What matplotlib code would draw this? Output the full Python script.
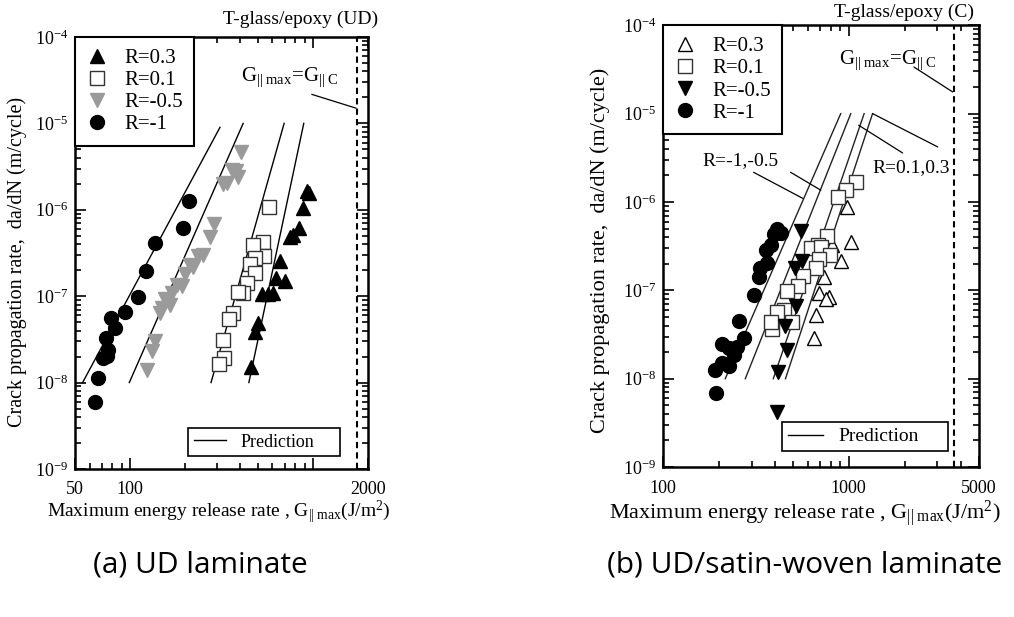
import numpy as np
import matplotlib
matplotlib.use("Agg")
import matplotlib.pyplot as plt
from matplotlib.ticker import NullFormatter, LogLocator
from matplotlib.lines import Line2D

plt.rcParams['font.family'] = ['Liberation Serif', 'DejaVu Serif']
plt.rcParams['mathtext.fontset'] = 'custom'
plt.rcParams['mathtext.rm'] = 'Liberation Serif'
plt.rcParams['mathtext.it'] = 'Liberation Serif:italic'
plt.rcParams['mathtext.bf'] = 'Liberation Serif:bold'

# ---- (a) UD laminate: G_II,max (J/m^2) vs da/dN (m/cycle) ----
ud_r03_g = [923, 953, 877, 841, 780, 748, 659, 627, 702, 524, 569, 602, 502, 481, 458]
ud_r03_dadn = [1.65e-6, 1.58e-6, 1.04e-6, 6.1e-7, 5.1e-7, 4.8e-7, 2.58e-7, 1.61e-7, 1.51e-7,
               1.05e-7, 1.05e-7, 1.1e-7, 4.9e-8, 3.8e-8, 1.53e-8]

ud_r01_g = [576, 531, 539, 471, 481, 452, 481, 434, 416, 390, 366, 348, 321, 327, 307]
ud_r01_dadn = [1.09e-6, 4.2e-7, 2.94e-7, 3.9e-7, 2.75e-7, 2.36e-7, 1.84e-7, 1.41e-7, 1.1e-7,
               1.13e-7, 6.3e-8, 5.5e-8, 3.1e-8, 1.9e-8, 1.64e-8]

ud_rm05_g = [404, 362, 380, 390, 323, 340, 288, 273, 251, 236, 222, 212, 200, 180, 191,
             169, 155, 165, 146, 150, 137, 131, 123]
ud_rm05_dadn = [4.7e-6, 2.9e-6, 2.8e-6, 2.4e-6, 2.0e-6, 2.05e-6, 6.8e-7, 4.8e-7, 3.0e-7,
                2.9e-7, 2.2e-7, 2.3e-7, 1.8e-7, 1.35e-7, 1.3e-7, 1.1e-7, 9.3e-8, 7.9e-8,
                6.3e-8, 7.2e-8, 3.0e-8, 2.3e-8, 1.4e-8]

ud_rm1_g = [210, 195, 136, 122, 110, 94, 79, 83, 74, 76, 71, 74.5, 67, 64]
ud_rm1_dadn = [1.27e-6, 6.2e-7, 4.1e-7, 1.96e-7, 9.9e-8, 6.6e-8, 5.6e-8, 4.3e-8, 3.26e-8,
               2.38e-8, 1.91e-8, 2.03e-8, 1.14e-8, 5.9e-9]

# prediction lines (end points), order R=-1, -0.5, 0.1, 0.3
ud_pred_g = [[55, 310], [99, 415], [277, 695], [446, 890]]
ud_pred_dadn = [[1e-8, 9e-6], [1e-8, 1e-5], [1e-8, 1e-5], [1e-8, 1e-5]]
ud_gc = 1730

# ---- (b) UD/satin-woven laminate ----
c_r03_g = [984, 1025, 817, 905, 735, 691, 783, 751, 663, 649]
c_r03_dadn = [8.8e-7, 3.5e-7, 3.25e-7, 2.14e-7, 1.4e-7, 9.4e-8, 8.4e-8, 7.9e-8, 5.2e-8, 2.86e-8]

c_r01_g = [1091, 963, 875, 760, 686, 623, 712, 792, 691, 663, 569, 535, 462, 447, 412, 496, 384, 379]
c_r01_dadn = [1.69e-6, 1.38e-6, 1.14e-6, 4.1e-7, 3.3e-7, 3.05e-7, 3.1e-7, 2.5e-7, 2.24e-7,
              1.77e-7, 1.45e-7, 1.12e-7, 9.9e-8, 6.0e-8, 5.7e-8, 4.4e-8, 3.7e-8, 4.4e-8]

c_rm05_g = [551, 562, 511, 517, 451, 466, 415, 408]
c_rm05_dadn = [4.7e-7, 2.16e-7, 1.77e-7, 6.6e-8, 4.0e-8, 2.1e-8, 1.19e-8, 4.2e-9]

c_rm1_g = [412, 395, 429, 379, 356, 364, 334, 327, 308, 257, 272, 208, 225, 250, 240, 208,
           225, 191, 193]
c_rm1_dadn = [4.9e-7, 4.4e-7, 4.5e-7, 3.25e-7, 2.9e-7, 2.05e-7, 1.77e-7, 1.42e-7, 8.8e-8,
              4.5e-8, 2.9e-8, 2.5e-8, 2.2e-8, 2.3e-8, 1.85e-8, 1.49e-8, 1.39e-8, 1.27e-8, 6.9e-9]

c_pred_g = [[216, 905], [277, 1025], [392, 1210], [456, 1343]]
c_pred_dadn = [[1e-8, 1e-5], [1e-8, 1e-5], [1e-8, 1e-5], [1e-8, 1e-5]]
c_gc = 3700

y_ticks = [1e-9, 1e-8, 1e-7, 1e-6, 1e-5, 1e-4]
y_labels = [r'$10^{-9}$', r'$10^{-8}$', r'$10^{-7}$', r'$10^{-6}$', r'$10^{-5}$', r'$10^{-4}$']

gray = '#9a9a9a'
ms = 9.5
G_LABEL = r'G$_{||\ \mathrm{max}}$=G$_{||\ \mathrm{C}}$'


def style_axes(ax, xlim, xticks, xlabels):
    ax.set_xscale('log')
    ax.set_yscale('log')
    ax.set_xlim(*xlim)
    ax.set_ylim(1e-9, 1e-4)
    ax.set_xticks(xticks, xlabels)
    ax.set_yticks(y_ticks, y_labels)
    ax.xaxis.set_minor_locator(LogLocator(base=10, subs=np.arange(2, 10)))
    ax.yaxis.set_minor_locator(LogLocator(base=10, subs=np.arange(2, 10)))
    ax.xaxis.set_minor_formatter(NullFormatter())
    ax.yaxis.set_minor_formatter(NullFormatter())
    ax.tick_params(which='both', direction='in', top=True, right=True, width=1.2)
    ax.tick_params(which='major', length=8, labelsize=13)
    ax.tick_params(which='minor', length=4)
    ax.tick_params(axis='x', which='major', pad=9)
    ax.tick_params(axis='y', which='major', pad=5)
    for s in ax.spines.values():
        s.set_linewidth(1.8)


def leader(ax, p0, p1):
    ax.annotate('', xy=p1, xytext=p0,
                arrowprops=dict(arrowstyle='-', color='black', lw=0.9, shrinkA=0, shrinkB=0))


fig = plt.figure(figsize=(10.14, 6.17), dpi=100)

# ---------------- left panel ----------------
ax1 = fig.add_axes([0.074, 0.240, 0.289, 0.700])
style_axes(ax1, (50, 2000), [50, 100, 1000, 2000], ['50', '100', '', '2000'])

for g, d in zip(ud_pred_g, ud_pred_dadn):
    ax1.plot(g, d, color='black', lw=1.0, zorder=2)
ax1.axvline(ud_gc, color='black', lw=1.5, ls=(0, (3, 2)))

h1 = ax1.plot(ud_r03_g, ud_r03_dadn, ls='none', marker='^', ms=ms, mfc='black', mec='black', zorder=3)[0]
h2 = ax1.plot(ud_r01_g, ud_r01_dadn, ls='none', marker='s', ms=ms, mfc='white', mec='#333333', mew=1.0, zorder=3)[0]
h3 = ax1.plot(ud_rm05_g, ud_rm05_dadn, ls='none', marker='v', ms=ms, mfc=gray, mec=gray, zorder=3)[0]
h4 = ax1.plot(ud_rm1_g, ud_rm1_dadn, ls='none', marker='o', ms=ms + 0.5, mfc='black', mec='black', zorder=3)[0]

leg = ax1.legend([h1, h2, h3, h4], ['R=0.3', 'R=0.1', 'R=-0.5', 'R=-1'], loc='upper left',
                 borderaxespad=0, fancybox=False, edgecolor='black', framealpha=1, fontsize=15,
                 handlelength=1.0, handletextpad=0.8, labelspacing=0.12, borderpad=0.55)
leg.get_frame().set_linewidth(1.5)
ax1.add_artist(leg)
pl = ax1.legend([Line2D([], [], color='black', lw=1.0)], ['Prediction'], loc='lower left',
                bbox_to_anchor=(0.386, 0.03, 0.518, 0.065), mode='expand', borderaxespad=0,
                fancybox=False, edgecolor='black', framealpha=1, fontsize=13,
                handlelength=1.8, borderpad=0.3)
pl.get_frame().set_linewidth(1.2)

ax1.text(748, 3.4e-5, G_LABEL, fontsize=15, ha='center', va='center')
leader(ax1, (984, 2.17e-5), (1720, 1.5e-5))
ax1.text(1.035, 1.04, 'T-glass/epoxy (UD)', transform=ax1.transAxes, ha='right', va='center', fontsize=14)

ax1.set_ylabel('Crack propagation rate,  da/dN (m/cycle)', fontsize=14.5)
ax1.yaxis.set_label_coords(-0.165, 0.48)
ax1.set_xlabel(r'Maximum energy release rate , G$_{||\ \mathrm{max}}$(J/m$^2$)', fontsize=14)
ax1.xaxis.set_label_coords(0.49, -0.07)

# ---------------- right panel ----------------
ax2 = fig.add_axes([0.654, 0.243, 0.311, 0.716])
style_axes(ax2, (100, 5000), [100, 1000, 5000], ['100', '1000', '5000'])

for g, d in zip(c_pred_g, c_pred_dadn):
    ax2.plot(g, d, color='#222222', lw=1.0, zorder=2)
ax2.axvline(c_gc, color='black', lw=1.5, ls=(0, (3, 2)))

k1 = ax2.plot(c_r03_g, c_r03_dadn, ls='none', marker='^', ms=ms, mfc='white', mec='black', mew=1.0, zorder=3)[0]
k2 = ax2.plot(c_r01_g, c_r01_dadn, ls='none', marker='s', ms=ms, mfc='white', mec='#333333', mew=1.0, zorder=3)[0]
k3 = ax2.plot(c_rm05_g, c_rm05_dadn, ls='none', marker='v', ms=ms, mfc='black', mec='black', zorder=3)[0]
k4 = ax2.plot(c_rm1_g, c_rm1_dadn, ls='none', marker='o', ms=ms + 0.5, mfc='black', mec='black', zorder=3)[0]

leg2 = ax2.legend([k1, k2, k3, k4], ['R=0.3', 'R=0.1', 'R=-0.5', 'R=-1'], loc='upper left',
                  borderaxespad=0, fancybox=False, edgecolor='black', framealpha=1, fontsize=15,
                  handlelength=1.0, handletextpad=0.8, labelspacing=0.12, borderpad=0.55)
leg2.get_frame().set_linewidth(1.5)
ax2.add_artist(leg2)
pl2 = ax2.legend([Line2D([], [], color='black', lw=1.0)], ['Prediction'], loc='lower left',
                 bbox_to_anchor=(0.378, 0.036, 0.524, 0.063), mode='expand', borderaxespad=0,
                 fancybox=False, edgecolor='black', framealpha=1, fontsize=14,
                 handlelength=1.8, borderpad=0.3)
pl2.get_frame().set_linewidth(1.2)

ax2.text(1620, 4.0e-5, G_LABEL, fontsize=15, ha='center', va='center')
leader(ax2, (2245, 3.37e-5), (3630, 1.76e-5))
ax2.text(261, 2.97e-6, 'R=-1,-0.5', fontsize=14, ha='center', va='center')
leader(ax2, (307, 2.17e-6), (565, 1.1e-6))
leader(ax2, (486, 2.17e-6), (707, 1.36e-6))
ax2.text(2160, 2.48e-6, 'R=0.1,0.3', fontsize=14, ha='center', va='center')
leader(ax2, (1950, 3.59e-6), (1130, 7.4e-6))
leader(ax2, (3015, 4.2e-6), (1345, 1.0e-5))
ax2.text(0.985, 1.03, 'T-glass/epoxy (C)', transform=ax2.transAxes, ha='right', va='center', fontsize=14)

ax2.set_ylabel('Crack propagation rate,  da/dN (m/cycle)', fontsize=16)
ax2.yaxis.set_label_coords(-0.17, 0.49)
ax2.set_xlabel(r'Maximum energy release rate , G$_{||\ \mathrm{max}}$(J/m$^2$)', fontsize=16)
ax2.xaxis.set_label_coords(0.45, -0.07)

# captions
fig.text(200 / 1014, 1 - 565 / 617, '(a) UD laminate', fontsize=21.5, ha='center', va='center',
         family=['Open Sans', 'DejaVu Sans'])
fig.text(805 / 1014, 1 - 565 / 617, '(b) UD/satin-woven laminate', fontsize=21.5, ha='center', va='center',
         family=['Open Sans', 'DejaVu Sans'])

fig.savefig('out.png', dpi=100)
